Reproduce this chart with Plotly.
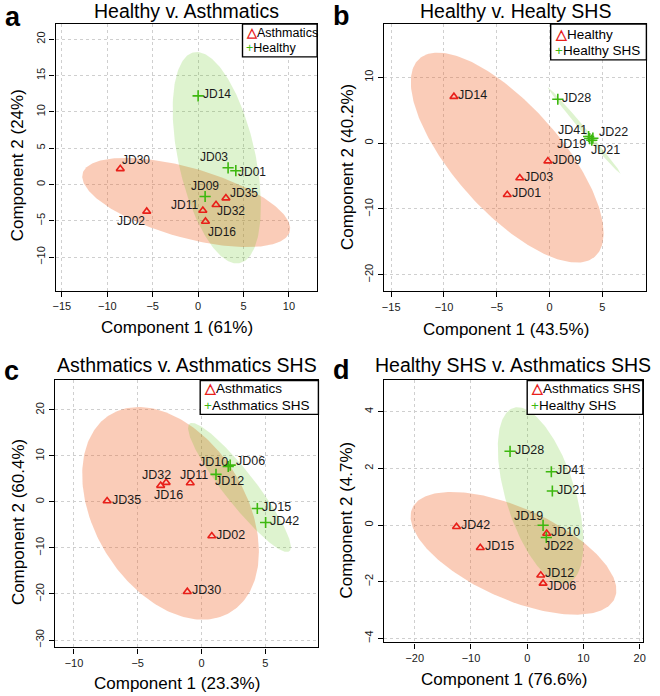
import numpy as np
import plotly.graph_objects as go

# ---------------- data ----------------
a_asth_ids = ["JD30", "JD02", "JD35", "JD32", "JD11", "JD16"]
a_asth_x = [-8.57, -5.66, 3.06, 1.97, 0.52, 0.81]
a_asth_y = [2.16, -3.70, -1.87, -2.79, -3.57, -5.08]
a_heal_ids = ["JD14", "JD03", "JD01", "JD09"]
a_heal_x = [0.0, 3.3, 4.15, 0.77]
a_heal_y = [12.2, 2.3, 1.9, -1.65]

b_heal_ids = ["JD14", "JD09", "JD03", "JD01"]
b_heal_x = [-9.06, -0.16, -2.82, -4.01]
b_heal_y = [7.06, -2.73, -5.3, -7.83]
b_shs_ids = ["JD28", "JD41", "JD19", "JD22", "JD21"]
b_shs_x = [0.78, 3.7, 3.8, 4.1, 4.0]
b_shs_y = [6.67, 1.0, 0.7, 0.75, 0.45]

c_asth_ids = ["JD35", "JD32", "JD16", "JD11", "JD02", "JD30"]
c_asth_x = [-7.4, -3.2, -2.77, -0.88, 0.81, -1.11]
c_asth_y = [0.2, 3.55, 4.2, 4.1, -7.4, -19.5]
c_shs_ids = ["JD10", "JD06", "JD12", "JD15", "JD42"]
c_shs_x = [2.1, 2.25, 1.14, 4.38, 5.03]
c_shs_y = [7.7, 8.0, 6.0, -1.43, -4.47]

d_asth_ids = ["JD10", "JD42", "JD15", "JD12", "JD06"]
d_asth_x = [3.47, -12.57, -8.34, 2.41, 2.82]
d_asth_y = [-0.3, -0.06, -0.8, -1.77, -2.06]
d_heal_ids = ["JD28", "JD41", "JD21", "JD19", "JD22"]
d_heal_x = [-3.05, 4.29, 4.47, 2.82, 3.4]
d_heal_y = [2.6, 1.88, 1.2, -0.01, -0.44]

titles = ["Healthy v. Asthmatics", "Healthy v. Healty SHS",
          "Asthmatics v. Asthmatics SHS", "Healthy SHS v. Asthmatics SHS"]
panel_letters = ["a", "b", "c", "d"]
group_names = [("Asthmatics", "Healthy"), ("Healthy", "Healthy SHS"),
               ("Asthmatics", "Asthmatics SHS"), ("Asthmatics SHS", "Healthy SHS")]
xlabels = ["Component 1 (61%)", "Component 1 (43.5%)", "Component 1 (23.3%)", "Component 1 (76.6%)"]
ylabels = ["Component 2 (24%)", "Component 2 (40.2%)", "Component 2 (60.4%)", "Component 2 (4.7%)"]
xticks = [[-15, -10, -5, 0, 5, 10], [-15, -10, -5, 0, 5], [-10, -5, 0, 5], [-20, -10, 0, 10, 20]]
yticks = [[-10, -5, 0, 5, 10, 15, 20], [-20, -10, 0, 10], [-30, -20, -10, 0, 10, 20], [-4, -2, 0, 2, 4]]

# ---------------- layout geometry (pixels) ----------------
W, H = 660, 696
plot_px = [(53, 317, 24, 291), (384.3, 649.3, 24, 291.7),
           (52.3, 318.3, 381, 648.3), (384.3, 645.7, 381, 643.3)]
xranges = [[-15.7, 13.1], [-15.7, 9.17], [-11.5, 9.17], [-25.5, 20.56]]
yranges = [[-14.6, 22.1], [-22.5, 18.1], [-31.6, 26.4], [-4.14, 5.1]]

# label offsets (screen px: dx right, dy down) ; default = right of point
default_off = (19, -1.5)
label_off = [
    {("r", "JD30"): (16, -9), ("r", "JD02"): (-16, 10), ("r", "JD35"): (18, -5),
     ("r", "JD32"): (14.5, 6.7), ("r", "JD11"): (-18.4, -5), ("r", "JD16"): (16.5, 10.6),
     ("g", "JD14"): (19, -1.7), ("g", "JD03"): (-14, -10.4), ("g", "JD01"): (16, 1),
     ("g", "JD09"): (0, -10.7)},
    {("g", "JD41"): (-16, -7), ("g", "JD19"): (-18.3, 5.5), ("g", "JD22"): (20.5, -6),
     ("g", "JD21"): (14, 9.7)},
    {("r", "JD32"): (-4.5, -10.6), ("r", "JD16"): (2.8, 12.4), ("r", "JD11"): (3.5, -8),
     ("g", "JD10"): (-14.8, -5), ("g", "JD06"): (20, -4), ("g", "JD12"): (13.3, 6.7)},
    {("g", "JD19"): (-14.2, -9.3), ("g", "JD22"): (12.5, 8.4), ("r", "JD12"): (18.8, -2),
     ("r", "JD06"): (18.2, 2.2)},
]
label_fs = [12, 12.5, 12.5, 12.5]
legend_px = [(241.7, 317, 24, 57, 243.5, 33.3, 48.3, 12.5),
             (552.7, 649.3, 24, 60, 555.5, 34.5, 50.5, 13.5),
             (199, 318.3, 381, 415, 201, 389.5, 406, 13.5),
             (529, 645.7, 381, 415, 531, 389.5, 406, 13.5)]
title_pos = [(185, 10.8), (516.8, 10.8), (185.3, 365.5), (515, 365.5)]
letter_pos = [(10, 17), (341.5, 16), (8.5, 372), (341.5, 371)]
xtitle_pos = [(175.3, 328), (507.5, 329.5), (175.8, 684.5), (505.8, 680.5)]
ytitle_pos = [(15, 165.7), (347, 167.5), (15, 523), (347, 520.5)]

RED = "#E8201A"
GREEN = "#3DB80F"
RED_FILL = "rgba(240,100,40,0.33)"
GREEN_FILL = "rgba(80,190,0,0.19)"
FONT = "Liberation Sans, Arial, sans-serif"


def px_x(v):
    return v / W


def px_y(v):
    return 1 - v / H


def ellipse(xs, ys, level=0.95, n=240):
    x = np.asarray(xs, float)
    y = np.asarray(ys, float)
    cov = np.cov(x, y)
    t = np.sqrt(-2 * np.log(1 - level))
    vals, vecs = np.linalg.eigh(cov)
    th = np.linspace(0, 2 * np.pi, n)
    circ = np.vstack([np.cos(th), np.sin(th)])
    pts = vecs @ (np.sqrt(np.clip(vals, 0, None))[:, None] * circ) * t
    return x.mean() + pts[0], y.mean() + pts[1]


panels = [
    ((a_asth_ids, a_asth_x, a_asth_y), (a_heal_ids, a_heal_x, a_heal_y)),
    ((b_heal_ids, b_heal_x, b_heal_y), (b_shs_ids, b_shs_x, b_shs_y)),
    ((c_asth_ids, c_asth_x, c_asth_y), (c_shs_ids, c_shs_x, c_shs_y)),
    ((d_asth_ids, d_asth_x, d_asth_y), (d_heal_ids, d_heal_x, d_heal_y)),
]

fig = go.Figure()
annotations = []
shapes = []
layout_axes = {}

for i, (red, green) in enumerate(panels):
    sfx = "" if i == 0 else str(i + 1)
    xa, ya = "x" + sfx, "y" + sfx
    # ellipses
    ex, ey = ellipse(red[1], red[2])
    fig.add_trace(go.Scatter(x=ex, y=ey, mode="lines", fill="toself", fillcolor=RED_FILL,
                             line=dict(width=0), hoverinfo="skip", showlegend=False,
                             xaxis=xa, yaxis=ya))
    ex, ey = ellipse(green[1], green[2])
    fig.add_trace(go.Scatter(x=ex, y=ey, mode="lines", fill="toself", fillcolor=GREEN_FILL,
                             line=dict(width=0), hoverinfo="skip", showlegend=False,
                             xaxis=xa, yaxis=ya))
    # points
    fig.add_trace(go.Scatter(x=red[1], y=red[2], mode="markers", name=group_names[i][0],
                             text=red[0], showlegend=False,
                             marker=dict(symbol="triangle-up-open", size=7, color=RED,
                                         line=dict(width=1.6, color=RED)),
                             xaxis=xa, yaxis=ya))
    fig.add_trace(go.Scatter(x=green[1], y=green[2], mode="markers", name=group_names[i][1],
                             text=green[0], showlegend=False,
                             marker=dict(symbol="cross-thin-open", size=8, color=GREEN,
                                         line=dict(width=1.6, color=GREEN)),
                             xaxis=xa, yaxis=ya))
    # point labels
    for key, grp in (("r", red), ("g", green)):
        for lid, lx, ly in zip(*grp):
            dx, dy = label_off[i].get((key, lid), default_off)
            annotations.append(dict(x=lx, y=ly, xref=xa, yref=ya, text=lid, showarrow=False,
                                    xanchor="center", yanchor="middle", xshift=dx, yshift=-dy,
                                    font=dict(size=label_fs[i], color="#1a1a1a", family=FONT)))
    # axes
    x0, x1, y0, y1 = plot_px[i]
    common = dict(showline=True, linecolor="black", linewidth=1.4, mirror=True,
                  ticks="outside", ticklen=5, tickwidth=1, tickcolor="black",
                  showgrid=True, gridcolor="#cfcfcf", gridwidth=1, griddash="3px,3px",
                  zeroline=False, tickfont=dict(size=11, color="#1a1a1a", family=FONT),
                  tickmode="array")
    layout_axes["xaxis" + sfx] = dict(common, domain=[px_x(x0), px_x(x1)], range=xranges[i],
                                      tickvals=xticks[i], anchor=ya)
    layout_axes["yaxis" + sfx] = dict(common, domain=[px_y(y1), px_y(y0)], range=yranges[i],
                                      tickvals=yticks[i], tickangle=-90, anchor=xa)
    # title, letter, axis titles
    tx, ty = title_pos[i]
    annotations.append(dict(x=px_x(tx), y=px_y(ty), xref="paper", yref="paper", text=titles[i],
                            showarrow=False, xanchor="center", yanchor="middle",
                            font=dict(size=19.5, color="black", family=FONT)))
    lx_, ly_ = letter_pos[i]
    annotations.append(dict(x=px_x(lx_), y=px_y(ly_), xref="paper", yref="paper",
                            text="<b>%s</b>" % panel_letters[i], showarrow=False,
                            xanchor="center", yanchor="middle",
                            font=dict(size=27, color="black", family=FONT)))
    ax_, ay_ = xtitle_pos[i]
    annotations.append(dict(x=px_x(ax_), y=px_y(ay_), xref="paper", yref="paper", text=xlabels[i],
                            showarrow=False, xanchor="center", yanchor="middle",
                            font=dict(size=17, color="black", family=FONT)))
    bx_, by_ = ytitle_pos[i]
    annotations.append(dict(x=px_x(bx_), y=px_y(by_), xref="paper", yref="paper", text=ylabels[i],
                            showarrow=False, xanchor="center", yanchor="middle", textangle=-90,
                            font=dict(size=17, color="black", family=FONT)))
    # legend box
    lx0, lx1, ly0, ly1, tx0, r1, r2, lfs = legend_px[i]
    shapes.append(dict(type="rect", xref="paper", yref="paper", x0=px_x(lx0), x1=px_x(lx1),
                       y0=px_y(ly1), y1=px_y(ly0), line=dict(color="black", width=1.4),
                       fillcolor="white", layer="above"))
    annotations.append(dict(x=px_x(tx0), y=px_y(r1), xref="paper", yref="paper", showarrow=False,
                            xanchor="left", yanchor="middle",
                            text="<span style='color:%s'><b>△</b></span>%s" % (RED, group_names[i][0]),
                            font=dict(size=lfs, color="black", family=FONT)))
    annotations.append(dict(x=px_x(tx0), y=px_y(r2), xref="paper", yref="paper", showarrow=False,
                            xanchor="left", yanchor="middle",
                            text="<span style='color:%s'>+</span>%s" % (GREEN, group_names[i][1]),
                            font=dict(size=lfs, color="black", family=FONT)))

fig.update_layout(width=W, height=H, margin=dict(l=0, r=0, t=0, b=0),
                  paper_bgcolor="white", plot_bgcolor="white",
                  annotations=annotations, shapes=shapes, showlegend=False,
                  font=dict(family=FONT), **layout_axes)

fig.write_html("out.html", config={"displayModeBar": False},
               post_script="document.body.style.margin='0px';")
